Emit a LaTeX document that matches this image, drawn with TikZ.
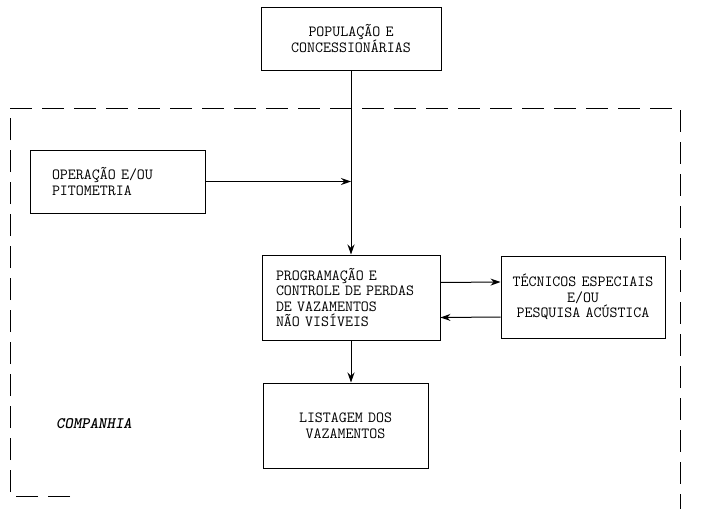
\documentclass[tikz,border=0pt]{standalone}
\usepackage{fontspec}
\newfontfamily\compfont{lmmonolt10-boldoblique.otf}
\usepackage{tikz}
\usetikzlibrary{shapes.geometric, arrows, arrows.meta}
\tikzstyle{arrow} = [line width=1pt,->,>={Stealth[length=10pt,width=7pt]}]
\tikzstyle{box} = [draw, rectangle, line width=1pt, inner ysep=0pt, font=\ttfamily\fontsize{15.5}{15.5}\selectfont]
\tikzstyle{frame} = [line width=1pt, dash pattern=on 22pt off 10pt]

\begin{document}
\begin{tikzpicture}[x=1pt, y=-1pt]
        \useasboundingbox (0,0) rectangle (701,509);

        \node[box, minimum height=63pt, inner xsep=8pt, text width=164pt, align=center] (A) at (351,38.5) {POPULAÇÃO E\\CONCESSIONÁRIAS};
        \node[box, minimum height=63pt, inner xsep=22pt, text width=131pt, align=left] (B) at (117.5,181.5) {OPERAÇÃO E/OU\\PITOMETRIA};
        \node[box, minimum height=85pt, inner xsep=14pt, text width=150pt, align=left] (C) at (351,297.5) {PROGRAMAÇÃO E\\CONTROLE DE PERDAS\\DE VAZAMENTOS\\NÃO VISÍVEIS};
        \node[box, minimum height=82pt, inner xsep=4pt, text width=156pt, align=center] (D) at (583,297) {TÉCNICOS ESPECIAIS\\E/OU\\PESQUISA ACÚSTICA};
        \node[box, minimum height=85pt, inner xsep=8pt, text width=149pt, align=center] (E) at (345.5,425.5) {LISTAGEM DOS\\VAZAMENTOS};
        \node[font=\compfont\fontsize{16}{16}\selectfont] (F) at (94,424) {COMPANHIA};
        \coordinate (J) at (351,181.5);

        % Company frame - dashed
        \draw[frame] (70,496) -- (10,496) -- (10,108) -- (680,108) -- (680,509);

        % Edges - arrows
        \draw[arrow] (A.south) -- (C.north);
        \draw[arrow] (B.east) -- (J);
        \draw[arrow] ([yshift=15pt]C.east) -- ([yshift=15pt]D.west);
        \draw[arrow] ([yshift=-20pt]D.west) -- ([yshift=-20pt]C.east);
        \draw[arrow] (C.south) -- (C.south |- E.north);
      \end{tikzpicture}
\end{document}
